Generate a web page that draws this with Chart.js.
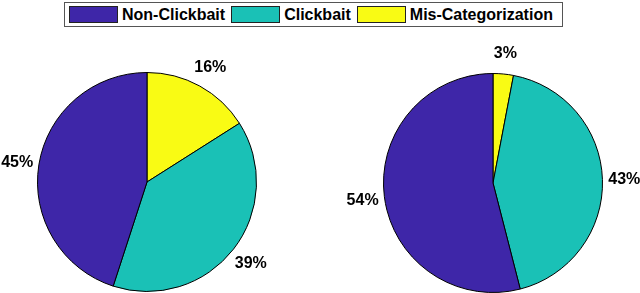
<!DOCTYPE html>
<html>
<head>
<meta charset="utf-8">
<script src="https://cdn.jsdelivr.net/npm/chart.js@4"></script>
<style>
  html, body { margin: 0; padding: 0; background: #fff; overflow: hidden; }
  body { width: 640px; height: 293px; position: relative; font-family: "Liberation Sans", Arial, sans-serif; }
  #legend {
    position: absolute; left: 64px; top: 2px; width: 493px; height: 23px;
    border: 1px solid #555; display: flex; align-items: center;
    padding-left: 4px; box-sizing: content-box;
    font-weight: bold; font-size: 16px; color: #000;
  }
  #legend .sw { width: 47px; height: 15px; border: 1px solid #222; margin-right: 4px; }
  #legend .txt { margin-right: 6px; white-space: nowrap; }
  .pie { position: absolute; top: 0; width: 320px; height: 293px; }
</style>
</head>
<body>
<div id="legend"></div>
<div class="pie" style="left:0"><canvas id="left"></canvas></div>
<div class="pie" style="left:320px"><canvas id="right"></canvas></div>
<script>
// legend order (as shown at the top)
const categories = ['Non-Clickbait', 'Clickbait', 'Mis-Categorization'];
const colors = ['#3E26A8', '#1AC1B6', '#F9FB14'];

// percentages per pie, same order as categories
const leftValues = [45, 39, 16];
const rightValues = [54, 43, 3];

// build the legend
const legend = document.getElementById('legend');
categories.forEach((name, i) => {
  const sw = document.createElement('div');
  sw.className = 'sw';
  sw.style.background = colors[i];
  const txt = document.createElement('div');
  txt.className = 'txt';
  txt.textContent = name;
  legend.appendChild(sw);
  legend.appendChild(txt);
});

// matlab style labels: centered at 1.2 * radius on the slice mid angle
const pctLabels = {
  id: 'pctLabels',
  afterDatasetsDraw(chart) {
    const ctx = chart.ctx;
    const meta = chart.getDatasetMeta(0);
    const values = chart.data.datasets[0].data;
    ctx.save();
    ctx.font = 'bold 16px "Liberation Sans", Arial, sans-serif';
    ctx.fillStyle = '#000';
    ctx.textAlign = 'center';
    ctx.textBaseline = 'middle';
    meta.data.forEach((arc, i) => {
      const mid = (arc.startAngle + arc.endAngle) / 2;
      const r = arc.outerRadius * 1.2;
      ctx.fillText(values[i] + '%', arc.x + Math.cos(mid) * r, arc.y + Math.sin(mid) * r + 1);
    });
    ctx.restore();
  }
};

// chart.js goes clockwise from the top, matlab counterclockwise, so reverse
function makePie(id, values, padding) {
  return new Chart(document.getElementById(id), {
    type: 'pie',
    data: {
      labels: categories.slice().reverse(),
      datasets: [{
        data: values.slice().reverse(),
        backgroundColor: colors.slice().reverse(),
        borderColor: '#000',
        borderWidth: 1,
        hoverOffset: 0
      }]
    },
    options: {
      responsive: false,
      animation: false,
      events: [],
      layout: { padding: padding },
      plugins: { legend: { display: false }, tooltip: { enabled: false } }
    },
    plugins: [pctLabels]
  });
}

for (const id of ['left', 'right']) {
  const c = document.getElementById(id);
  c.width = 320; c.height = 293;
}
makePie('left', leftValues, { left: 37, right: 63, top: 72, bottom: 1 });
makePie('right', rightValues, { left: 63, right: 37, top: 73, bottom: 0 });
</script>
</body>
</html>
